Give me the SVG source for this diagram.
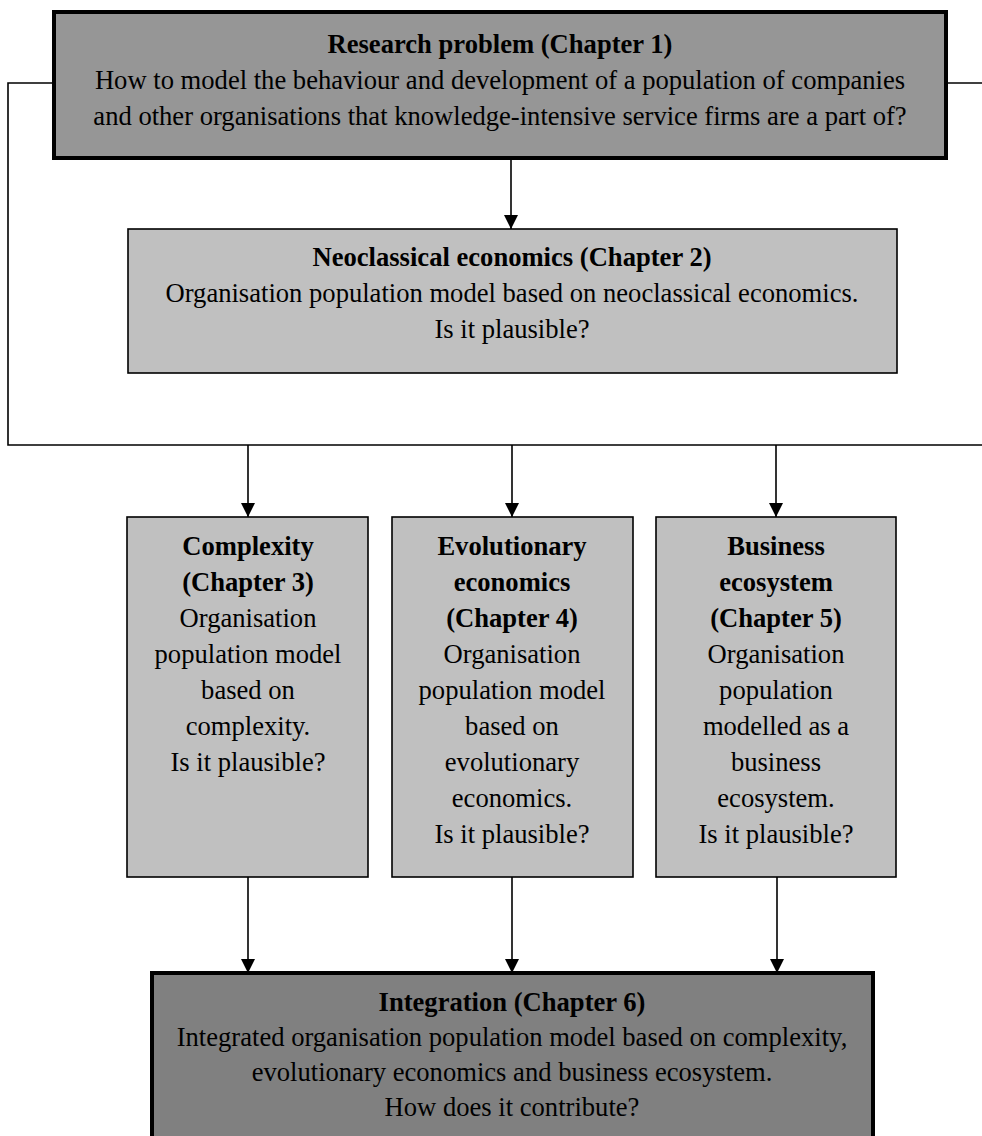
<svg xmlns="http://www.w3.org/2000/svg" width="982" height="1136" viewBox="0 0 982 1136">
  <style>
    text { font-family: "Liberation Serif", "Times New Roman", serif; font-size: 26.6px; fill: #000; text-anchor: middle; }
    .t { font-weight: bold; }
    .major { fill: #969696; stroke: #000; stroke-width: 4; }
    .minor { fill: #c0c0c0; stroke: #000; stroke-width: 1.6; }
    .final { fill: #808080; stroke: #000; stroke-width: 4; }
    .wire { fill: none; stroke: #000; stroke-width: 1.6; }
  </style>
  <defs>
    <marker id="arrow" markerUnits="userSpaceOnUse" markerWidth="14" markerHeight="16" refX="14" refY="7" orient="auto" viewBox="0 0 14 14">
      <path d="M0,0 L14,7 L0,14 Z" fill="#000"/>
    </marker>
  </defs>
  <rect width="982" height="1136" fill="#fff"/>

  <g id="connectors">
    <!-- feedback bracket from research problem to the three theory tracks -->
    <path class="wire" d="M54,83 H8 V445 H982"/>
    <path class="wire" d="M946,83 H982"/>
    <path class="wire" d="M511,158 V229" marker-end="url(#arrow)"/>
    <path class="wire" d="M248,445 V517" marker-end="url(#arrow)"/>
    <path class="wire" d="M512,445 V517" marker-end="url(#arrow)"/>
    <path class="wire" d="M776,445 V517" marker-end="url(#arrow)"/>
    <path class="wire" d="M248,877 V973" marker-end="url(#arrow)"/>
    <path class="wire" d="M512,877 V973" marker-end="url(#arrow)"/>
    <path class="wire" d="M777,877 V973" marker-end="url(#arrow)"/>
  </g>

  <g id="research-problem">
    <rect class="major" x="54" y="12" width="892" height="146"/>
    <text x="500" y="53" class="t">Research problem (Chapter 1)</text>
    <text x="500" y="89">How to model the behaviour and development of a population of companies</text>
    <text x="500" y="125">and other organisations that knowledge-intensive service firms are a part of?</text>
  </g>

  <g id="neoclassical">
    <rect class="minor" x="128" y="229" width="769" height="144"/>
    <text x="512" y="266" class="t">Neoclassical economics (Chapter 2)</text>
    <text x="512" y="302">Organisation population model based on neoclassical economics.</text>
    <text x="512" y="338">Is it plausible?</text>
  </g>

  <g id="complexity">
    <rect class="minor" x="127" y="517" width="241" height="360"/>
    <text x="248" y="555" class="t">Complexity</text>
    <text x="248" y="591" class="t">(Chapter 3)</text>
    <text x="248" y="627">Organisation</text>
    <text x="248" y="663">population model</text>
    <text x="248" y="699">based on</text>
    <text x="248" y="735">complexity.</text>
    <text x="248" y="771">Is it plausible?</text>
  </g>

  <g id="evolutionary">
    <rect class="minor" x="392" y="517" width="241" height="360"/>
    <text x="512" y="555" class="t">Evolutionary</text>
    <text x="512" y="591" class="t">economics</text>
    <text x="512" y="627" class="t">(Chapter 4)</text>
    <text x="512" y="663">Organisation</text>
    <text x="512" y="699">population model</text>
    <text x="512" y="735">based on</text>
    <text x="512" y="771">evolutionary</text>
    <text x="512" y="807">economics.</text>
    <text x="512" y="843">Is it plausible?</text>
  </g>

  <g id="business-ecosystem">
    <rect class="minor" x="656" y="517" width="240" height="360"/>
    <text x="776" y="555" class="t">Business</text>
    <text x="776" y="591" class="t">ecosystem</text>
    <text x="776" y="627" class="t">(Chapter 5)</text>
    <text x="776" y="663">Organisation</text>
    <text x="776" y="699">population</text>
    <text x="776" y="735">modelled as a</text>
    <text x="776" y="771">business</text>
    <text x="776" y="807">ecosystem.</text>
    <text x="776" y="843">Is it plausible?</text>
  </g>

  <g id="integration">
    <rect class="final" x="152" y="973" width="721" height="180"/>
    <text x="512" y="1011" class="t">Integration (Chapter 6)</text>
    <text x="512" y="1046">Integrated organisation population model based on complexity,</text>
    <text x="512" y="1081">evolutionary economics and business ecosystem.</text>
    <text x="512" y="1116">How does it contribute?</text>
  </g>
</svg>
